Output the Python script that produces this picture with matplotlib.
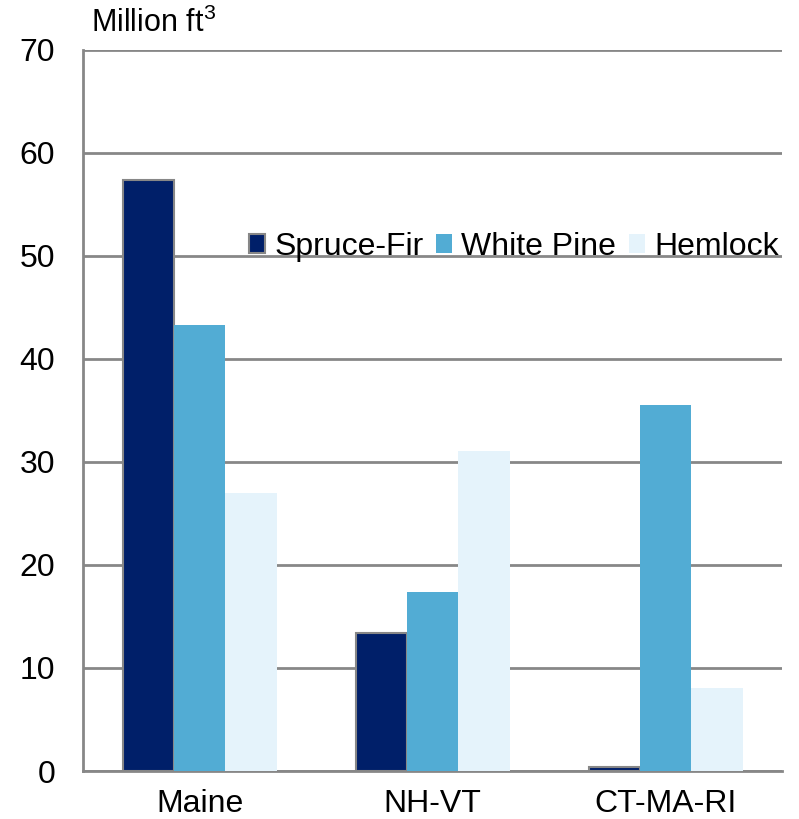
import numpy as np
import matplotlib.pyplot as plt

plt.rcParams['font.family'] = ['Liberation Sans', 'DejaVu Sans']
plt.rcParams['mathtext.fontset'] = 'custom'
plt.rcParams['mathtext.rm'] = 'Liberation Sans'

regions = ["Maine", "NH-VT", "CT-MA-RI"]
species = ["Spruce-Fir", "White Pine", "Hemlock"]
spruce_fir = [57.4, 13.4, 0.4]
white_pine = [43.3, 17.4, 35.5]
hemlock = [27.0, 31.1, 8.1]
yticks = [0, 10, 20, 30, 40, 50, 60, 70]

colors = ["#001f69", "#52acd4", "#e5f3fb"]
grid_c = "#878787"

fig = plt.figure(figsize=(7.99, 8.19), dpi=100)
ax = fig.add_axes([0.104, 0.0586, 0.875, 0.8804])

x = np.arange(len(regions))
w = 0.22
series = [spruce_fir, white_pine, hemlock]
for i, vals in enumerate(series):
    if i == 0:
        ax.bar(x + (i - 1) * w, vals, w, color=colors[i], edgecolor=grid_c,
               linewidth=1.5, label=species[i], zorder=3)
    else:
        ax.bar(x + (i - 1) * w, vals, w, color=colors[i], linewidth=0,
               label=species[i], zorder=3)

ax.set_xlim(-0.5, len(regions) - 0.5)
ax.set_ylim(0, 70)
ax.set_yticks(yticks)
ax.set_xticks(x)
ax.set_xticklabels(regions)
ax.yaxis.grid(True, color=grid_c, linewidth=2)
ax.set_axisbelow(True)
ax.tick_params(length=0, labelsize=23)
ax.tick_params(axis='y', pad=20)
ax.tick_params(axis='x', pad=13)
for s in ["top", "right"]:
    ax.spines[s].set_visible(False)
for s in ["left", "bottom"]:
    ax.spines[s].set_color(grid_c)
    ax.spines[s].set_linewidth(2)

ax.legend(loc="center right", bbox_to_anchor=(1.013, 0.727), ncol=3, frameon=False,
          fontsize=23, handlelength=0.5, handleheight=0.5, handletextpad=0.28,
          columnspacing=0.4, borderaxespad=0)

fig.text(0.114, 0.972, r"Million ft$^{3}$", fontsize=22, va="center", ha="left")

fig.savefig("out.png", dpi=100, facecolor="white")
